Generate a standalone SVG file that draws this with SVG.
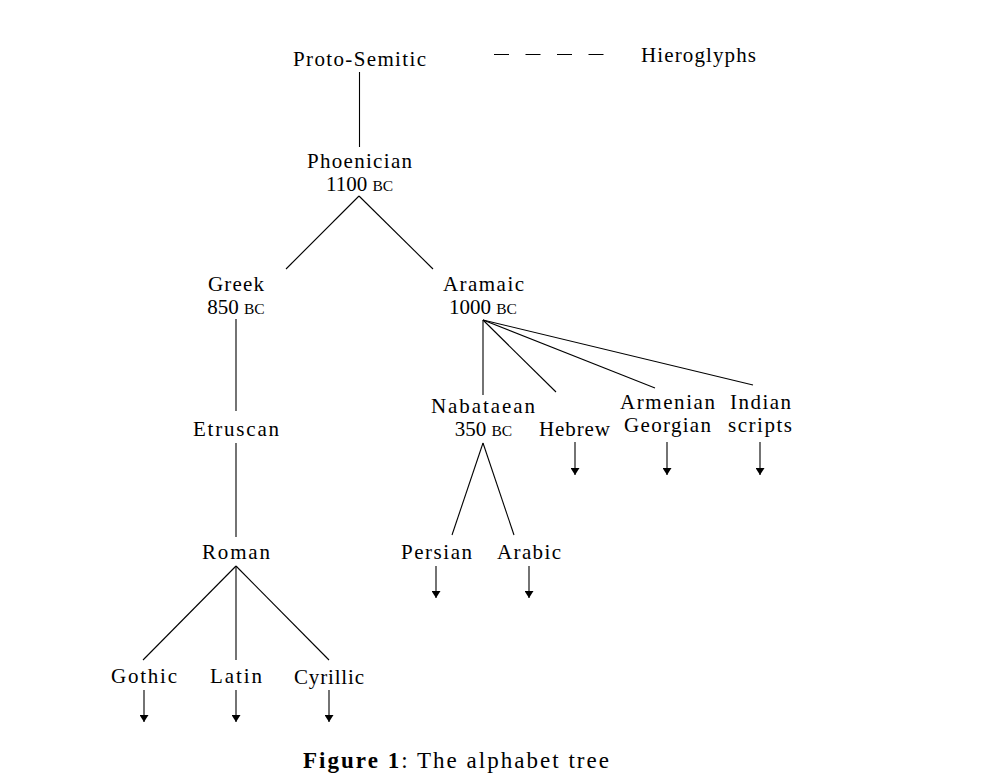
<svg xmlns="http://www.w3.org/2000/svg" width="991" height="783" viewBox="0 0 991 783">
<style>
text{font-family:"Liberation Serif","Times New Roman",serif;font-size:21px;fill:#000;text-anchor:middle}
.sc{font-size:15.5px}
.cap{font-size:23px}
.ln{stroke:#000;stroke-width:1.1;fill:none}
.ar{stroke:#000;stroke-width:1.1;fill:none;marker-end:url(#ah)}
</style>
<defs>
<marker id="ah" viewBox="0 0 10 10" refX="10" refY="5" markerWidth="7" markerHeight="9" markerUnits="userSpaceOnUse" orient="auto" preserveAspectRatio="none">
<path d="M0,0 L10,5 L0,10 z" fill="#000"/>
</marker>
</defs>
<rect width="991" height="783" fill="#fff"/>
<g id="connectors">
<line class="ln" x1="359.5" y1="72" x2="359.5" y2="147"/>
<line class="ln" x1="494" y1="54.5" x2="606" y2="54.5" stroke-dasharray="15 16.5"/>
<line class="ln" x1="359" y1="196" x2="286" y2="269"/>
<line class="ln" x1="359" y1="196" x2="433" y2="269"/>
<line class="ln" x1="236" y1="319" x2="236" y2="411"/>
<line class="ln" x1="236" y1="443" x2="236" y2="537"/>
<line class="ln" x1="483" y1="320" x2="483" y2="395"/>
<line class="ln" x1="483" y1="320" x2="556" y2="392"/>
<line class="ln" x1="483" y1="320" x2="655" y2="388"/>
<line class="ln" x1="483" y1="320" x2="753" y2="385"/>
<line class="ln" x1="483" y1="443" x2="452" y2="535"/>
<line class="ln" x1="483" y1="443" x2="514" y2="535"/>
<line class="ln" x1="236" y1="566" x2="143" y2="660"/>
<line class="ln" x1="236" y1="566" x2="236" y2="660"/>
<line class="ln" x1="236" y1="566" x2="329" y2="660"/>
<line class="ar" x1="575" y1="442" x2="575" y2="475"/>
<line class="ar" x1="667" y1="442" x2="667" y2="475"/>
<line class="ar" x1="760" y1="442" x2="760" y2="475"/>
<line class="ar" x1="436" y1="566" x2="436" y2="598"/>
<line class="ar" x1="529" y1="566" x2="529" y2="598"/>
<line class="ar" x1="144" y1="690" x2="144" y2="722"/>
<line class="ar" x1="236" y1="690" x2="236" y2="722"/>
<line class="ar" x1="329" y1="690" x2="329" y2="722"/>
</g>
<g id="proto-semitic"><text x="359.5" y="66" textLength="133" lengthAdjust="spacing">Proto-Semitic</text></g>
<g id="hieroglyphs"><text x="698.5" y="62" textLength="115" lengthAdjust="spacing">Hieroglyphs</text></g>
<g id="phoenician"><text x="359.5" y="168" textLength="105" lengthAdjust="spacing">Phoenician</text><text x="359.5" y="191">1100 <tspan class="sc">BC</tspan></text></g>
<g id="greek"><text x="236" y="291" textLength="56" lengthAdjust="spacing">Greek</text><text x="236" y="314">850 <tspan class="sc">BC</tspan></text></g>
<g id="aramaic"><text x="483.5" y="291" textLength="81" lengthAdjust="spacing">Aramaic</text><text x="483" y="314">1000 <tspan class="sc">BC</tspan></text></g>
<g id="etruscan"><text x="236" y="436" textLength="86" lengthAdjust="spacing">Etruscan</text></g>
<g id="nabataean"><text x="483" y="413" textLength="104" lengthAdjust="spacing">Nabataean</text><text x="483.5" y="436">350 <tspan class="sc">BC</tspan></text></g>
<g id="hebrew"><text x="574.5" y="436" textLength="71" lengthAdjust="spacing">Hebrew</text></g>
<g id="armenian-georgian"><text x="667.5" y="409" textLength="95" lengthAdjust="spacing">Armenian</text><text x="667.5" y="432" textLength="87" lengthAdjust="spacing">Georgian</text></g>
<g id="indian-scripts"><text x="760.5" y="409" textLength="61" lengthAdjust="spacing">Indian</text><text x="760" y="432" textLength="64" lengthAdjust="spacing">scripts</text></g>
<g id="roman"><text x="236" y="559" textLength="68" lengthAdjust="spacing">Roman</text></g>
<g id="persian"><text x="436.5" y="559" textLength="71" lengthAdjust="spacing">Persian</text></g>
<g id="arabic"><text x="529" y="559" textLength="64" lengthAdjust="spacing">Arabic</text></g>
<g id="gothic"><text x="144" y="683" textLength="66" lengthAdjust="spacing">Gothic</text></g>
<g id="latin"><text x="236" y="683" textLength="52" lengthAdjust="spacing">Latin</text></g>
<g id="cyrillic"><text x="329" y="684" textLength="70" lengthAdjust="spacing">Cyrillic</text></g>
<g id="caption"><text class="cap" x="456" y="768" textLength="306" lengthAdjust="spacing"><tspan font-weight="bold">Figure 1</tspan>: The alphabet tree</text></g>
</svg>
